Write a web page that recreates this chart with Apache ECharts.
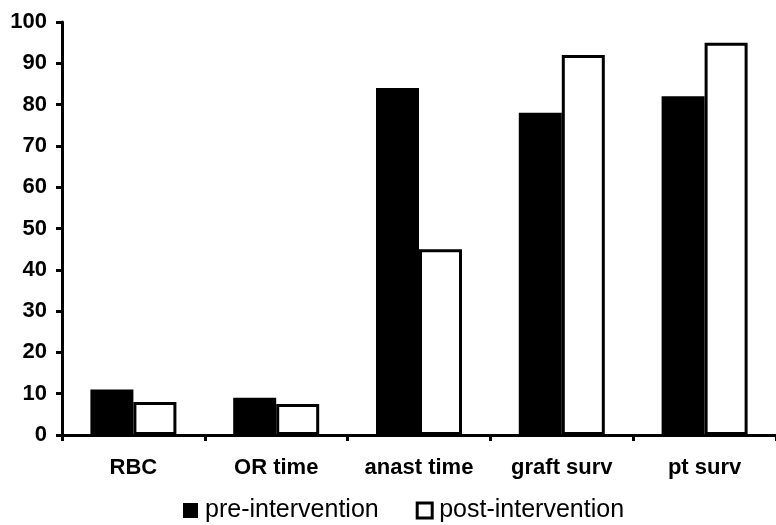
<!DOCTYPE html>
<html>
<head>
<meta charset="utf-8">
<script src="https://cdn.jsdelivr.net/npm/echarts@6/dist/echarts.min.js"></script>
<style>html,body{margin:0;padding:0;background:#fff}#c{width:776px;height:525px}</style>
</head>
<body>
<div id="c"></div>
<script>
const categories = ['RBC', 'OR time', 'anast time', 'graft surv', 'pt surv'];
const preValues = [11, 9, 84, 78, 82];
const postValues = [8, 7.5, 45, 92, 95];
const yTicks = [0, 10, 20, 30, 40, 50, 60, 70, 80, 90, 100];

const chart = echarts.init(document.getElementById('c'), null, {renderer: 'canvas'});
chart.setOption({
  animation: false,
  backgroundColor: '#fff',
  textStyle: {fontFamily: 'Liberation Sans, Arial, sans-serif'},
  grid: {left: 62, right: 0, top: 22, bottom: 90, containLabel: false},
  legend: {
    top: 493, left: 178,
    itemWidth: 15, itemHeight: 15, itemGap: 37,
    icon: 'rect',
    textStyle: {fontSize: 25, color: '#000', fontFamily: 'Liberation Sans, Arial, sans-serif', padding: [0, 0, 0, 2]},
    data: [
      {name: 'pre-intervention', itemStyle: {color: '#000', borderColor: '#000', borderWidth: 0}},
      {name: 'post-intervention', itemStyle: {color: '#fff', borderColor: '#000', borderWidth: 3}}
    ]
  },
  xAxis: {
    type: 'category',
    data: categories,
    axisLine: {lineStyle: {color: '#000', width: 3}},
    axisTick: {show: true, interval: 0, length: 6, lineStyle: {color: '#000', width: 3}},
    axisLabel: {interval: 0, hideOverlap: false, fontSize: 22, fontWeight: 'bold', color: '#000', margin: 22}
  },
  yAxis: {
    type: 'value', min: yTicks[0], max: yTicks[yTicks.length - 1], interval: 10,
    splitLine: {show: false},
    axisLine: {show: true, lineStyle: {color: '#000', width: 3}},
    axisTick: {show: true, length: 6, lineStyle: {color: '#000', width: 3}},
    axisLabel: {fontSize: 22, fontWeight: 'bold', color: '#000', margin: 15}
  },
  series: [
    {name: 'pre-intervention', type: 'bar', data: preValues, barWidth: 43, barGap: '0%',
     itemStyle: {color: '#000', borderColor: '#000', borderWidth: 0}},
    {name: 'post-intervention', type: 'bar', data: postValues, barWidth: 43,
     itemStyle: {color: '#fff', borderColor: '#000', borderWidth: 3}}
  ]
});
</script>
</body>
</html>
